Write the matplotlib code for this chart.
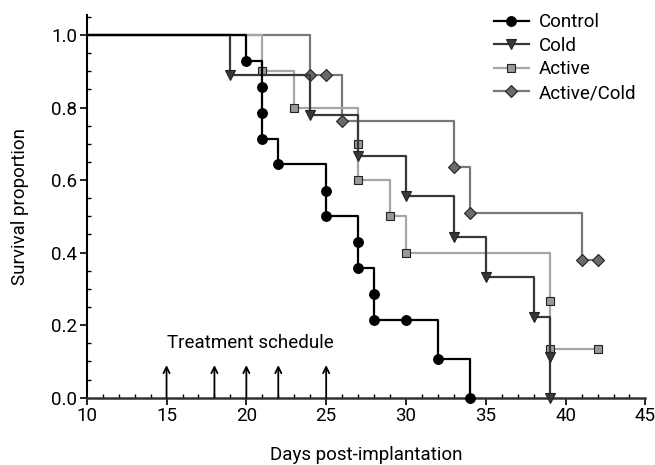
import matplotlib
matplotlib.use('Agg')
import matplotlib.pyplot as plt
from matplotlib.lines import Line2D
from matplotlib.ticker import MultipleLocator

plt.rcParams['font.family'] = ['Roboto', 'DejaVu Sans']

# Kaplan-Meier step points (day, survival proportion); first point is the start
control_days = [0, 20, 21, 21, 21, 22, 25, 25, 27, 27, 28, 28, 30, 32, 34]
control_surv = [1.0, 0.929, 0.857, 0.786, 0.714, 0.643, 0.571, 0.5, 0.429, 0.357,
                0.286, 0.214, 0.214, 0.107, 0.0]

cold_days = [0, 19, 24, 27, 30, 33, 35, 38, 39, 39]
cold_surv = [1.0, 0.889, 0.778, 0.667, 0.556, 0.444, 0.333, 0.222, 0.111, 0.0]

active_days = [0, 21, 23, 27, 27, 29, 30, 39, 39, 42]
active_surv = [1.0, 0.9, 0.8, 0.7, 0.6, 0.5, 0.4, 0.267, 0.133, 0.133]

actcold_days = [0, 24, 25, 26, 33, 34, 41, 42]
actcold_surv = [1.0, 0.889, 0.889, 0.762, 0.635, 0.508, 0.381, 0.381]

treatment_days = [15, 18, 20, 22, 25]

series = [
    ('Control', control_days, control_surv, '#000000', 'o', '#000000', 7),
    ('Cold', cold_days, cold_surv, '#383838', 'v', '#383838', 7.5),
    ('Active', active_days, active_surv, '#a6a6a6', 's', '#999999', 6),
    ('Active/Cold', actcold_days, actcold_surv, '#787878', 'D', '#6a6a6a', 6.3),
]

fig = plt.figure(figsize=(6.55, 4.65), dpi=100)
ax = fig.add_axes([0.1324, 0.1447, 0.853, 0.823])

handles = []
for i, (name, d, s, col, mk, face, ms) in enumerate(series):
    z = 10 - i
    edge = '#000000' if name == 'Control' else '#222222'
    ax.step(d, s, where='post', color=col, lw=1.6, zorder=z)
    ax.plot(d[1:], s[1:], linestyle='none', marker=mk, ms=ms, mfc=face,
            mec=edge, mew=0.8, zorder=z + 0.5, clip_on=False)
    handles.append(Line2D([], [], color=col, lw=1.6, marker=mk, ms=ms, mfc=face,
                          mec=edge, mew=0.8))

# treatment arrows
for t in treatment_days:
    ax.annotate('', xy=(t, 0.09), xytext=(t, 0.0),
                arrowprops=dict(arrowstyle='->', color='black', lw=1.3,
                                mutation_scale=11, shrinkA=0, shrinkB=0))
ax.text(20.25, 0.152, 'Treatment schedule', ha='center', va='center', fontsize=13.5)

ax.set_xlim(10, 45)
ax.set_ylim(0, 1.055)
ax.xaxis.set_major_locator(MultipleLocator(5))
ax.xaxis.set_minor_locator(MultipleLocator(1))
ax.yaxis.set_minor_locator(MultipleLocator(0.05))
ax.set_yticks([0, 0.2, 0.4, 0.6, 0.8, 1.0])
ax.set_yticklabels(['0.0', '0.2', '0.4', '0.6', '0.8', '1.0'])
ax.tick_params(which='major', direction='out', length=5, width=1.2, labelsize=13.5, pad=2)
ax.tick_params(which='minor', direction='in', length=3, width=1.0)

for side in ['top', 'right']:
    ax.spines[side].set_visible(False)
ax.spines['left'].set_linewidth(1.5)
ax.spines['bottom'].set_linewidth(1.8)
ax.spines['bottom'].set_color('#333333')

ax.set_xlabel('Days post-implantation', fontsize=13.5, labelpad=15)
ax.set_ylabel('Survival proportion', fontsize=13.5, labelpad=16)

fig.legend(handles, [s[0] for s in series], loc='upper left',
           bbox_to_anchor=(0.728, 1.008), frameon=False, fontsize=13.5,
           handlelength=1.87, handletextpad=0.55, labelspacing=0.3)

fig.savefig('out.png', dpi=100)
